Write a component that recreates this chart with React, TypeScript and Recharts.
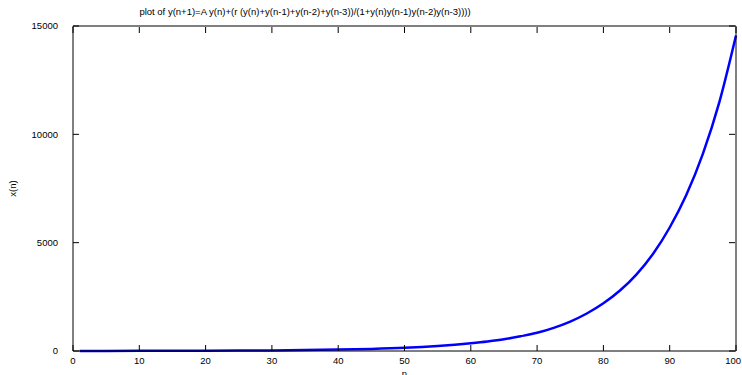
import { LineChart, Line, XAxis, YAxis } from "recharts";

const nValues = [1, 5, 10, 15, 20, 25, 30, 35, 40, 45, 50, 55, 60, 62.5, 65, 67.5, 70, 72.5, 75, 77.5, 80, 82.5, 85, 87.5, 90, 92.5, 95, 97.5, 100];
const xValues = [3, 4, 6, 9, 13, 19, 28, 42, 64, 98, 150, 235, 360, 440, 540, 680, 840, 1070, 1360, 1730, 2200, 2790, 3540, 4490, 5700, 7200, 9100, 11500, 14560];

const xTicks = [0, 10, 20, 30, 40, 50, 60, 70, 80, 90, 100];
const yTicks = [0, 5000, 10000, 15000];

const title = "plot of y(n+1)=A y(n)+(r (y(n)+y(n-1)+y(n-2)+y(n-3))/(1+y(n)y(n-1)y(n-2)y(n-3))))";

const data = nValues.map((n, i) => ({ n, x: xValues[i] }));

const FONT = "'Liberation Sans', Arial, sans-serif";
const TICK = 6;

function BottomTick({ x, y, payload }: any) {
  // keep the last label inside the picture, as in the original
  const half = String(payload.value).length * 2.6;
  const tx = Math.min(x, 741 - half);
  return (
    <g>
      <line x1={x} x2={x} y1={y - 5} y2={y - 5 - TICK} stroke="#000" />
      <text x={tx} y={y + 1} dy="0.71em" textAnchor="middle" fontSize={9.5} fontFamily={FONT} fill="#000">
        {payload.value}
      </text>
    </g>
  );
}

function TopTick({ x, y }: any) {
  return <line x1={x} x2={x} y1={y + 1} y2={y + 1 + TICK} stroke="#000" />;
}

function LeftTick({ x, y, payload }: any) {
  return (
    <g>
      <line x1={x + 15} x2={x + 15 + TICK} y1={y} y2={y} stroke="#000" />
      <text x={x} y={y} dy="0.355em" textAnchor="end" fontSize={9.5} fontFamily={FONT} fill="#000">
        {payload.value}
      </text>
    </g>
  );
}

function RightTick({ x, y }: any) {
  return <line x1={x - 1} x2={x - 1 - TICK} y1={y} y2={y} stroke="#000" />;
}

export default function App() {
  return (
    <div style={{ position: "absolute", left: 0, top: 0, width: 742, height: 375, background: "#fff" }}>
      <LineChart width={742} height={375} data={data} margin={{ top: 25, right: 5, bottom: 0, left: 8 }}>
        <text x={305} y={12} dy="0.355em" textAnchor="middle" fontSize={9.5} fontFamily={FONT} fill="#000">
          {title}
        </text>
        <XAxis
          dataKey="n"
          type="number"
          domain={[0, 100]}
          ticks={xTicks}
          height={24}
          tickSize={0}
          tickMargin={5}
          tickLine={false}
          axisLine={{ stroke: "#000" }}
          tick={<BottomTick />}
          interval={0}
          label={{ value: "n", position: "insideBottom", offset: -2, fontSize: 9.5, fontFamily: FONT, fill: "#000" }}
        />
        <XAxis
          xAxisId="top"
          orientation="top"
          dataKey="n"
          type="number"
          domain={[0, 100]}
          ticks={xTicks}
          height={1}
          tickSize={0}
          tickMargin={0}
          tickLine={false}
          axisLine={{ stroke: "#000" }}
          tick={<TopTick />}
          interval={0}
        />
        <YAxis
          type="number"
          domain={[0, 15000]}
          ticks={yTicks}
          width={65}
          tickSize={0}
          tickMargin={15}
          tickLine={false}
          axisLine={{ stroke: "#000" }}
          tick={<LeftTick />}
          interval={0}
          label={{
            value: "x(n)",
            angle: -90,
            position: "insideLeft",
            offset: 5,
            fontSize: 9.5,
            fontFamily: FONT,
            fill: "#000",
            style: { textAnchor: "middle" },
          }}
        />
        <YAxis
          yAxisId="right"
          orientation="right"
          type="number"
          domain={[0, 15000]}
          ticks={yTicks}
          width={1}
          tickSize={0}
          tickMargin={0}
          tickLine={false}
          axisLine={{ stroke: "#000" }}
          tick={<RightTick />}
          interval={0}
        />
        <Line
          type="monotone"
          dataKey="x"
          stroke="#0000ff"
          strokeWidth={2.5}
          dot={false}
          isAnimationActive={false}
        />
        <Line
          xAxisId="top"
          yAxisId="right"
          type="monotone"
          dataKey="x"
          stroke="none"
          dot={false}
          legendType="none"
          isAnimationActive={false}
        />
      </LineChart>
    </div>
  );
}
